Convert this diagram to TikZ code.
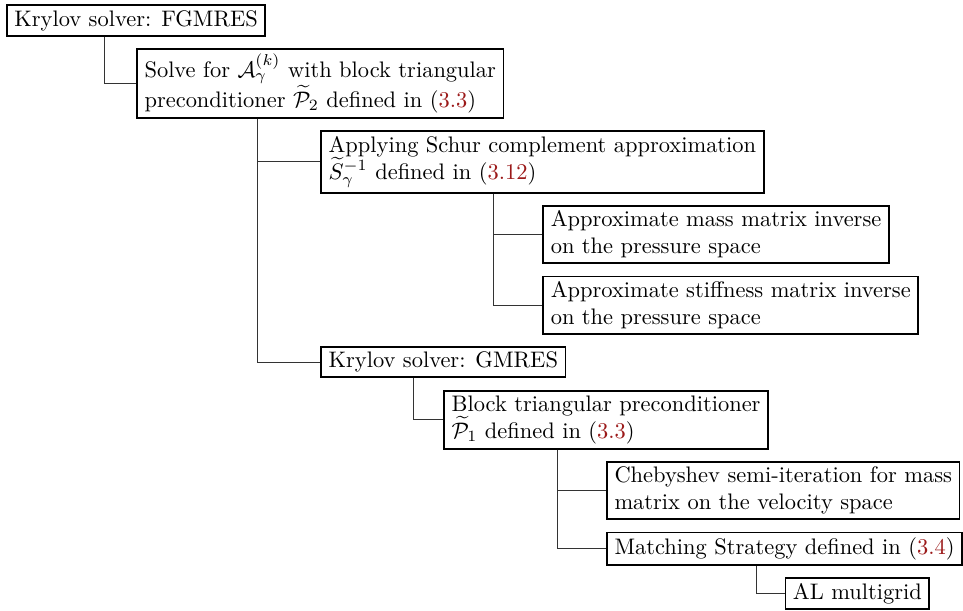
\documentclass[tikz,border=0pt]{standalone}
\usepackage{tikz}
\usetikzlibrary{calc}
\usepackage{xcolor}
\usepackage{amsmath,amsfonts}
\definecolor{eqred}{RGB}{155,25,25}
\newcommand{\eqnum}[1]{(\textcolor{eqred}{#1})}

\begin{document}
\begin{tikzpicture}[
  level/.style={draw, thick, anchor=north west, align=left, inner xsep=3.33pt, inner ysep=2.2pt},
  branch/.style={draw, line width=0.4pt, black!80}
]
\node[level] (fgmres) at (0,0) {Krylov solver: FGMRES};
\node[level] (solve) at ($(fgmres.south)+(0,-0.18)$) {Solve for $\mathcal{A}_\gamma^{(k)}$ with block triangular\\preconditioner $\widetilde{\mathcal{P}}_2$ defined in \eqnum{3.3}};
\node[level] (schur) at ($(solve.south)+(0,-0.18)$) {Applying Schur complement approximation\\$\widetilde{S}_\gamma^{-1}$ defined in \eqnum{3.12}};
\node[level] (mass) at ($(schur.south)+(0,-0.18)$) {Approximate mass matrix inverse\\on the pressure space};
\node[level] (stiff) at ($(schur.south |- mass.south)+(0,-0.18)$) {Approximate stiffness matrix inverse\\on the pressure space};
\node[level] (gmres) at ($(solve.south |- stiff.south)+(0,-0.18)$) {Krylov solver: GMRES};
\node[level] (blocktri) at ($(gmres.south)+(0,-0.18)$) {Block triangular preconditioner\\$\widetilde{\mathcal{P}}_1$ defined in \eqnum{3.3}};
\node[level] (cheby) at ($(blocktri.south)+(0,-0.18)$) {Chebyshev semi-iteration for mass\\matrix on the velocity space};
\node[level] (matching) at ($(blocktri.south |- cheby.south)+(0,-0.18)$) {Matching Strategy defined in \eqnum{3.4}};
\node[level] (almg) at ($(matching.south)+(0,-0.18)$) {AL multigrid};

\draw[branch] ($(fgmres.south west)!0.38!(fgmres.south east)$) |- (solve.west);
\draw[branch] ($(solve.south west)!0.33!(solve.south east)$) |- (schur.west);
\draw[branch] ($(solve.south west)!0.33!(solve.south east)$) |- (gmres.west);
\draw[branch] ($(schur.south west)!0.39!(schur.south east)$) |- (mass.west);
\draw[branch] ($(schur.south west)!0.39!(schur.south east)$) |- (stiff.west);
\draw[branch] ($(gmres.south west)!0.38!(gmres.south east)$) |- (blocktri.west);
\draw[branch] ($(blocktri.south west)!0.35!(blocktri.south east)$) |- (cheby.west);
\draw[branch] ($(blocktri.south west)!0.35!(blocktri.south east)$) |- (matching.west);
\draw[branch] ($(matching.south west)!0.42!(matching.south east)$) |- (almg.west);

\useasboundingbox ($(fgmres.north west)+(-2.7pt,2pt)$) rectangle ($(cheby.east |- almg.south)+(0,-0.3pt)$);
\end{tikzpicture}
\end{document}
